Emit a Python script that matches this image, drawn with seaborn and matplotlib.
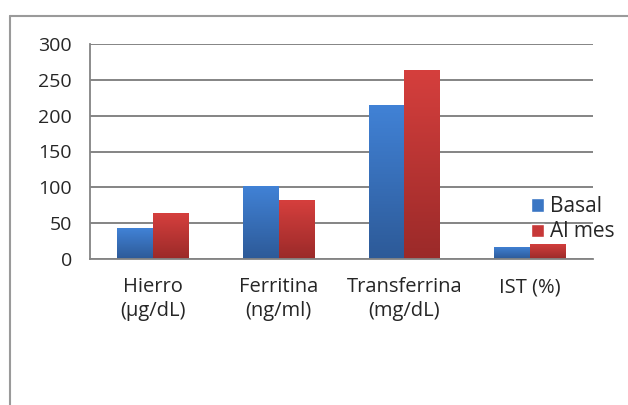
import numpy as np
import pandas as pd
import matplotlib
matplotlib.use('Agg')
import matplotlib.pyplot as plt
import seaborn as sns
from matplotlib.patches import Patch
from matplotlib.lines import Line2D

# datos
categorias = ['Hierro\n(µg/dL)', 'Ferritina\n(ng/ml)', 'Transferrina\n(mg/dL)', 'IST (%)']
basal = [43, 102, 215, 17]
al_mes = [64, 82, 264, 21]
series = ['Basal', 'Al mes']
colores = {'Basal': '#3a76c4', 'Al mes': '#c73838'}
y_ticks = [0, 50, 100, 150, 200, 250, 300]

sns.set_style('white')
plt.rcParams['font.family'] = ['Open Sans', 'DejaVu Sans']

df = pd.DataFrame({
    'Categoria': categorias * 2,
    'Serie': ['Basal'] * 4 + ['Al mes'] * 4,
    'Valor': basal + al_mes,
})

fig = plt.figure(figsize=(6.28, 4.05), dpi=100)
ax = fig.add_axes([90 / 628, 146 / 405, 503 / 628, 215 / 405])

sns.barplot(data=df, x='Categoria', y='Valor', hue='Serie', order=categorias,
            hue_order=series, palette=colores, width=0.57, gap=0,
            saturation=1, ax=ax, legend=False, linewidth=0)

# degradado vertical en cada barra (como el original de Excel)
grad = {
    'Basal': ('#4182d6', '#2d5a98'),
    'Al mes': ('#d53f3d', '#9b2a29'),
}
for cont, s in zip(ax.containers, series):
    top, bot = grad[s]
    cmap = matplotlib.colors.LinearSegmentedColormap.from_list(s, [bot, top])
    for bar in cont:
        x0, y0 = bar.get_x(), bar.get_y()
        w, h = bar.get_width(), bar.get_height()
        im = ax.imshow(np.linspace(0, 1, 64).reshape(-1, 1), cmap=cmap,
                       extent=[x0, x0 + w, y0, y0 + h], origin='lower',
                       aspect='auto', zorder=bar.get_zorder() + 0.1)
        im.set_clip_path(bar)

ax.set_xlim(-0.5, 3.5)
ax.set_ylim(0, 300)
ax.set_yticks(y_ticks)
ax.set_xlabel('')
ax.set_ylabel('')

# rejilla gris
ax.grid(False)
for v in y_ticks:
    ax.axhline(v, color='#848484', lw=1.4, zorder=0)
ax.set_axisbelow(True)

for sp in ['top', 'right']:
    ax.spines[sp].set_visible(False)
for sp in ['left', 'bottom']:
    ax.spines[sp].set_color('#848484')
    ax.spines[sp].set_linewidth(1.3)

ax.tick_params(axis='y', length=8, color='#848484', width=1.4,
               labelsize=14, labelcolor='#262626', pad=5)
ax.tick_params(axis='x', length=0, labelsize=14.5, labelcolor='#262626', pad=13)
for lbl in ax.get_xticklabels():
    lbl.set_linespacing(1.25)

# marcas entre categorias
ax.set_xticks([-0.5, 0.5, 1.5, 2.5, 3.5], minor=True)
ax.tick_params(axis='x', which='minor', length=6, color='#848484', width=1.3)

handles = [Patch(facecolor=colores[s], label=s) for s in series]
fig.legend(handles=handles, loc='upper left', bbox_to_anchor=(523 / 628, 1 - 188 / 405),
           frameon=False, fontsize=15, handlelength=0.6, handleheight=0.6,
           handletextpad=0.3, labelspacing=0.2, borderaxespad=0)

# marco exterior (solo borde superior e izquierdo visibles)
fig.add_artist(Line2D([10 / 628, 1.05], [1 - 16 / 405] * 2, transform=fig.transFigure,
                      color='#9a9a9a', lw=1.5))
fig.add_artist(Line2D([10 / 628] * 2, [-0.05, 1 - 16 / 405], transform=fig.transFigure,
                      color='#9a9a9a', lw=1.5))

fig.savefig('out.png', dpi=100, facecolor='white')
